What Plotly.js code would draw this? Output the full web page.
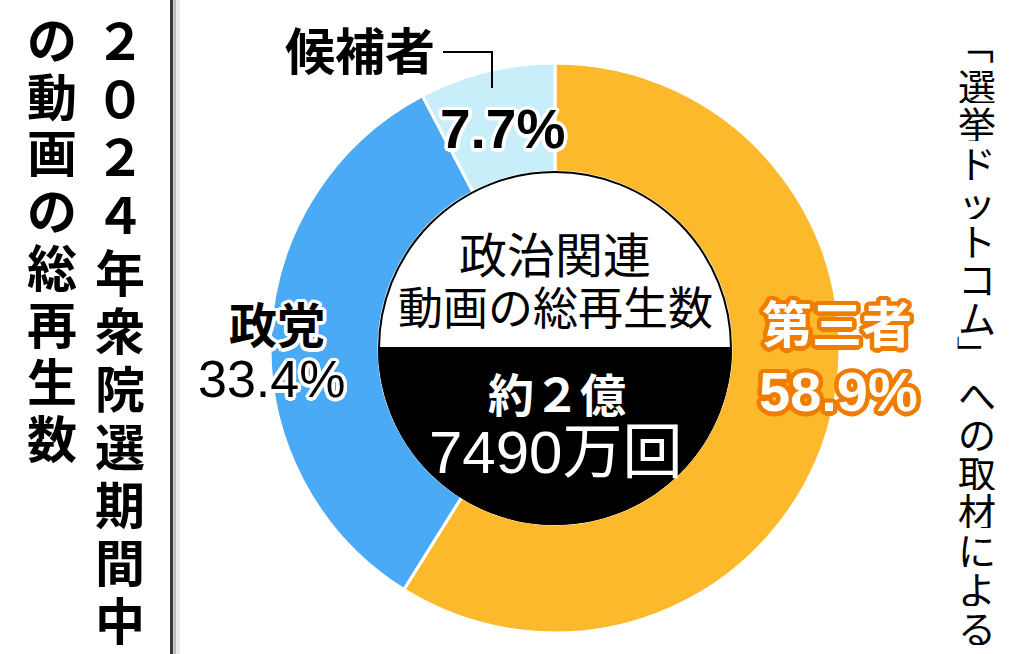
<!DOCTYPE html>
<html>
<head>
<meta charset="utf-8">
<script src="https://cdn.plot.ly/plotly-3.0.1.min.js"></script>
<style>html,body{margin:0;padding:0;background:#fff;}#chart{width:1024px;height:654px;}</style>
</head>
<body>
<div id="chart"></div>
<script>
// ---- data ----
const categories = ['第三者', '政党', '候補者'];
const shares = [58.9, 33.4, 7.7];
const centerTitle = ['政治関連', '動画の総再生数'];
const centerValue = ['約２億', '7490万回'];
const titleCol1 = '２０２４年衆院選期間中';
const titleCol2 = 'の動画の総再生数';
const sourceText = '「選挙ドットコム」への取材による';

// ---- style ----
const sliceColors = ['#FCB92B', '#4AAAF6', '#C8EEFA'];
const W = 1024, H = 654;
const px = x => x / W;
const py = y => 1 - y / H;
const CX = 555, CY = 348, R_OUT = 285, R_IN = 176;
const JP = 'Noto Sans CJK JP';
const NUM = 'Liberation Sans, Noto Sans CJK JP';

function halo(color, r) {
  const s = [];
  for (let a = 0; a < 16; a++) {
    const t = a * Math.PI / 8;
    s.push((r * Math.cos(t)).toFixed(1) + 'px ' + (r * Math.sin(t)).toFixed(1) + 'px 0 ' + color);
  }
  return s.join(', ');
}
const whiteHalo = halo('#ffffff', 3.5);
const orangeHalo = halo('#EF7D00', 4.5);

const pie = {
  type: 'pie',
  labels: categories,
  values: shares,
  sort: false,
  direction: 'clockwise',
  rotation: 0,
  hole: R_IN / R_OUT,
  marker: { colors: sliceColors, line: { color: '#ffffff', width: 3 } },
  textinfo: 'none',
  hoverinfo: 'none',
  showlegend: false,
  domain: { x: [px(CX - R_OUT), px(CX + R_OUT)], y: [py(CY + R_OUT), py(CY - R_OUT)] }
};

const annotations = [];
function ann(text, x, y, size, color, family, weight, shadow, boxH, angle) {
  const a = {
    text: text, xref: 'paper', yref: 'paper', x: px(x), y: py(y),
    xanchor: 'center', yanchor: 'middle', showarrow: false,
    font: { family: family, size: size, color: color, weight: weight, shadow: shadow || 'none' }
  };
  if (boxH) a.height = boxH;
  if (angle) a.textangle = angle;
  annotations.push(a);
}
// vertical writing: one character per line; corner brackets turned to their vertical form
function vtext(str, x, yFirst, pitch, size, weight, offsets) {
  Array.from(str).forEach((ch, i) => {
    const o = (offsets && offsets[ch]) || [0, 0];
    const rot = (ch === '「' || ch === '」') ? 90 : 0;
    ann(ch, x + o[0], yFirst + pitch * i + o[1], size, '#000', JP, weight, null, Math.floor(pitch), rot);
  });
}

// slice labels
ann(categories[2], 360, 48, 50, '#000', JP, 'bold', whiteHalo);
ann(shares[2].toFixed(1) + '%', 502, 129, 55, '#000', NUM, 'bold', whiteHalo);
ann(categories[1], 277, 322, 48, '#000', JP, 'bold', whiteHalo);
ann(shares[1].toFixed(1) + '%', 271, 379, 52, '#000', NUM, 'normal', whiteHalo);
ann(categories[0], 837, 321, 50, '#fff', JP, 'bold', orangeHalo);
ann(shares[0].toFixed(1) + '%', 838, 391, 56, '#fff', NUM, 'bold', orangeHalo);

// center
ann(centerTitle[0], 555, 252, 48, '#000', JP, 'normal');
ann(centerTitle[1], 555, 305, 45, '#000', JP, 'normal');
ann(centerValue[0], 557, 392, 46, '#fff', JP, 'bold');
ann(centerValue[1], 555, 452, 60, '#fff', NUM, 'normal');

// vertical title & source
vtext(titleCol1, 120, 38, 58, 50, 'bold');
vtext(titleCol2, 52, 36, 57, 50, 'bold');
vtext(sourceText, 977, 45, 38.7, 38, 'normal', { '「': [0, 0], '」': [0, 0] });

// half-disk path for center (lower half black)
let halfPath = 'M ' + (-R_IN) + ' 0';
for (let k = 1; k <= 60; k++) {
  const t = Math.PI * k / 60;
  halfPath += ' L ' + (-R_IN * Math.cos(t)).toFixed(2) + ' ' + (-R_IN * Math.sin(t)).toFixed(2);
}
halfPath += ' Z';

const shapes = [
  { type: 'circle', xref: 'paper', yref: 'paper', xsizemode: 'pixel', ysizemode: 'pixel',
    xanchor: px(CX), yanchor: py(CY), x0: -R_IN, x1: R_IN, y0: -R_IN, y1: R_IN,
    fillcolor: '#ffffff', line: { color: '#000', width: 2 } },
  { type: 'path', xref: 'paper', yref: 'paper', xsizemode: 'pixel', ysizemode: 'pixel',
    xanchor: px(CX), yanchor: py(CY), path: halfPath,
    fillcolor: '#000000', line: { color: '#000', width: 2 } },
  // leader line for 候補者
  { type: 'path', xref: 'paper', yref: 'paper',
    path: 'M ' + px(443) + ' ' + py(52) + ' L ' + px(492) + ' ' + py(52) + ' L ' + px(492) + ' ' + py(88),
    line: { color: '#000', width: 2 } },
  // separator bar with shadow
  { type: 'line', xref: 'paper', yref: 'paper', x0: px(177), x1: px(177), y0: 0, y1: 1,
    line: { color: 'rgba(0,0,0,0.08)', width: 6 } },
  { type: 'line', xref: 'paper', yref: 'paper', x0: px(174.5), x1: px(174.5), y0: 0, y1: 1,
    line: { color: 'rgba(0,0,0,0.2)', width: 3 } },
  { type: 'line', xref: 'paper', yref: 'paper', x0: px(171.5), x1: px(171.5), y0: 0, y1: 1,
    line: { color: '#3a3a3a', width: 3 } }
];

const layout = {
  width: W, height: H,
  margin: { l: 0, r: 0, t: 0, b: 0 },
  paper_bgcolor: '#ffffff', plot_bgcolor: '#ffffff',
  showlegend: false,
  shapes: shapes,
  annotations: annotations
};

Plotly.newPlot('chart', [pie], layout, { staticPlot: true, displayModeBar: false });
</script>
</body>
</html>
